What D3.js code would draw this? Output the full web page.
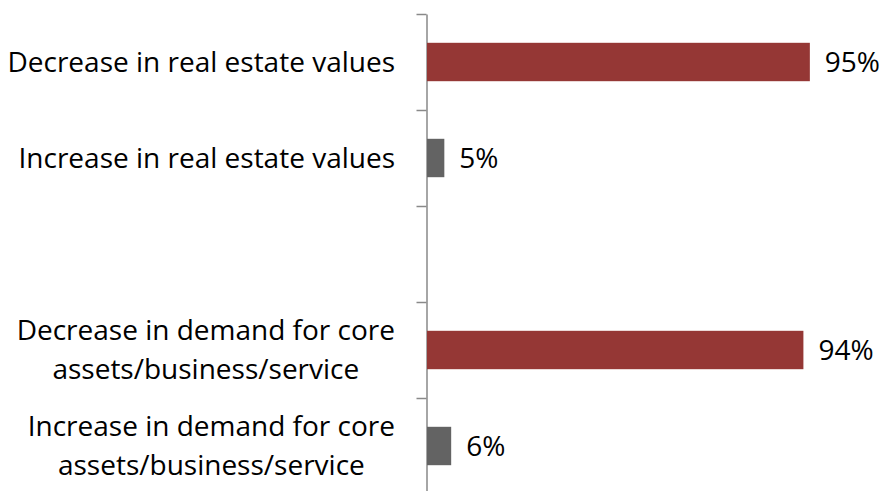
<!DOCTYPE html>
<html>
<head>
<meta charset="utf-8">
<script src="https://cdn.jsdelivr.net/npm/d3@7"></script>
<style>
  body { margin: 0; background: #fff; }
  svg text { font-family: "Open Sans", sans-serif; fill: #000; }
</style>
</head>
<body>
<svg id="chart"></svg>
<script>
// categories top to bottom; the empty slot is the gap between the two groups
const categories = [
    ["Decrease in real estate values"],
    ["Increase in real estate values"],
    [],
    ["Decrease in demand for core", "assets/business/service"],
    ["Increase in demand for core", "assets/business/service"]
];
const values = [95, 4.3, null, 93.4, 6];
const valueLabels = ["95%", "5%", "", "94%", "6%"];
const barColors = ["#953735", "#636363", null, "#953735", "#636363"];

const width = 895, height = 491;
const svg = d3.select("#chart")
              .attr("width", width)
              .attr("height", height);

const fontSize = 28;
const baseShift = 9.5;
const axisX = 426.5;

const x = d3.scaleLinear().domain([0, 100]).range([427, 830]);
const y = d3.scaleBand()
            .domain(d3.range(categories.length))
            .range([14, 494])
            .paddingInner(0.6)
            .paddingOuter(0.3);

// tick marks sit on the band boundaries
const yEdge = d3.scaleLinear().domain([0, categories.length]).range([14, 494]);

const axis = svg.append("g")
   .attr("transform", `translate(${axisX},0)`)
   .call(d3.axisLeft(yEdge)
           .tickValues(d3.range(categories.length + 1))
           .tickFormat("")
           .tickSize(10)
           .tickSizeOuter(0));
axis.select(".domain").attr("stroke", "#898989").attr("stroke-width", 1.5);
axis.selectAll(".tick line").attr("stroke", "#898989").attr("stroke-width", 1.5);

const rows = d3.range(categories.length).filter(i => values[i] != null);

svg.selectAll(".bar")
   .data(rows)
   .enter().append("rect")
   .attr("class", "bar")
   .attr("x", x(0))
   .attr("y", i => y(i))
   .attr("width", i => x(values[i]) - x(0))
   .attr("height", y.bandwidth())
   .attr("fill", i => barColors[i]);

svg.selectAll(".value")
   .data(rows)
   .enter().append("text")
   .attr("class", "value")
   .attr("x", i => x(values[i]) + 15)
   .attr("y", i => y(i) + y.bandwidth() / 2 + baseShift)
   .attr("font-size", fontSize + "px")
   .text(i => valueLabels[i]);

// category labels: block right-aligned at 395, lines centred within the block
const labelRight = 395;
const lineGap = 39;
categories.forEach((lines, i) => {
    if (!lines.length) return;
    const g = svg.append("g");
    const cy = y(i) + y.bandwidth() / 2;
    const texts = lines.map((line, k) => g.append("text")
        .attr("font-size", fontSize + "px")
        .attr("y", cy + baseShift + (k - (lines.length - 1) / 2) * lineGap)
        .text(line));
    const maxW = d3.max(texts, t => t.node().getComputedTextLength());
    texts.forEach(t => t.attr("x", labelRight - maxW / 2).attr("text-anchor", "middle"));
});
</script>
</body>
</html>
